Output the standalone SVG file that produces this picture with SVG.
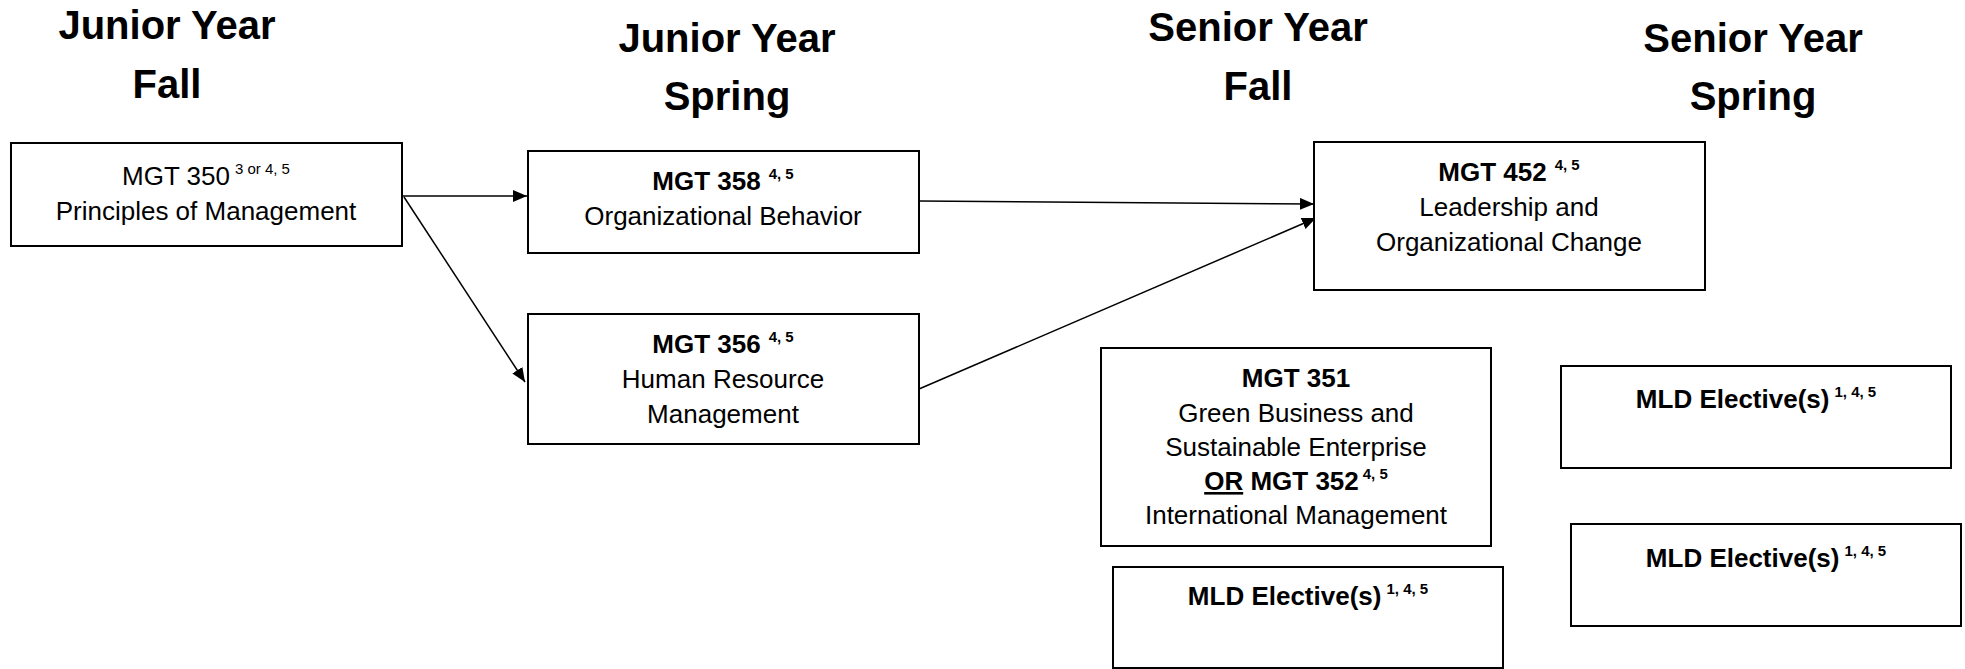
<svg xmlns="http://www.w3.org/2000/svg" width="1965" height="669" viewBox="0 0 1965 669">
<style>
.box{fill:#fff;stroke:#000;stroke-width:2}
.h{font-family:"Liberation Sans",Arial,sans-serif;font-weight:bold;font-size:40px;text-anchor:middle;fill:#000}
.t{font-family:"Liberation Sans",Arial,sans-serif;font-size:26px;text-anchor:middle;fill:#000}
.b{font-weight:bold}
.sup{font-size:15px}
.conn{stroke:#000;stroke-width:1.5;fill:none;marker-end:url(#arr)}
</style>
<defs>
<marker id="arr" markerUnits="userSpaceOnUse" viewBox="0 0 14 12" markerWidth="14" markerHeight="12" refX="14" refY="6" orient="auto">
<path d="M0,0 L14,6 L0,12 z" fill="#000"/>
</marker>
</defs>
<rect width="1965" height="669" fill="#fff"/>
<g id="headings">
<text class="h" x="167" y="39">Junior Year</text>
<text class="h" x="167" y="98">Fall</text>
<text class="h" x="727" y="52">Junior Year</text>
<text class="h" x="727" y="110">Spring</text>
<text class="h" x="1258" y="41">Senior Year</text>
<text class="h" x="1258" y="100">Fall</text>
<text class="h" x="1753" y="52">Senior Year</text>
<text class="h" x="1753" y="110">Spring</text>
</g>
<g id="connectors">
<line class="conn" x1="402" y1="196" x2="527" y2="196"/>
<line class="conn" x1="404" y1="197" x2="525" y2="382"/>
<line class="conn" x1="919" y1="201" x2="1314" y2="204"/>
<line class="conn" x1="919" y1="389" x2="1316" y2="218"/>
</g>
<g id="mgt350">
<rect class="box" x="11" y="143" width="391" height="103"/>
<text class="t" x="206" y="185">MGT 350<tspan class="sup" dx="5" dy="-11">3 or 4, 5</tspan></text>
<text class="t" x="206" y="220">Principles of Management</text>
</g>
<g id="mgt358">
<rect class="box" x="528" y="151" width="391" height="102"/>
<text class="t" x="723" y="190"><tspan class="b">MGT 358</tspan><tspan class="sup b" dx="8" dy="-11">4, 5</tspan></text>
<text class="t" x="723" y="225">Organizational Behavior</text>
</g>
<g id="mgt356">
<rect class="box" x="528" y="314" width="391" height="130"/>
<text class="t" x="723" y="353"><tspan class="b">MGT 356</tspan><tspan class="sup b" dx="8" dy="-11">4, 5</tspan></text>
<text class="t" x="723" y="388">Human Resource</text>
<text class="t" x="723" y="423">Management</text>
</g>
<g id="mgt452">
<rect class="box" x="1314" y="142" width="391" height="148"/>
<text class="t" x="1509" y="181"><tspan class="b">MGT 452</tspan><tspan class="sup b" dx="8" dy="-11">4, 5</tspan></text>
<text class="t" x="1509" y="216">Leadership and</text>
<text class="t" x="1509" y="251">Organizational Change</text>
</g>
<g id="mgt351">
<rect class="box" x="1101" y="348" width="390" height="198"/>
<text class="t b" x="1296" y="387">MGT 351</text>
<text class="t" x="1296" y="422">Green Business and</text>
<text class="t" x="1296" y="456">Sustainable Enterprise</text>
<text class="t b" x="1296" y="490"><tspan text-decoration="underline">OR</tspan> MGT 352<tspan class="sup" dx="4" dy="-11">4, 5</tspan></text>
<text class="t" x="1296" y="524">International Management</text>
</g>
<g id="mld-fall">
<rect class="box" x="1113" y="567" width="390" height="101"/>
<text class="t b" x="1308" y="605">MLD Elective(s)<tspan class="sup" dx="5" dy="-11">1, 4, 5</tspan></text>
</g>
<g id="mld-spring-1">
<rect class="box" x="1561" y="366" width="390" height="102"/>
<text class="t b" x="1756" y="408">MLD Elective(s)<tspan class="sup" dx="5" dy="-11">1, 4, 5</tspan></text>
</g>
<g id="mld-spring-2">
<rect class="box" x="1571" y="524" width="390" height="102"/>
<text class="t b" x="1766" y="567">MLD Elective(s)<tspan class="sup" dx="5" dy="-11">1, 4, 5</tspan></text>
</g>
</svg>
